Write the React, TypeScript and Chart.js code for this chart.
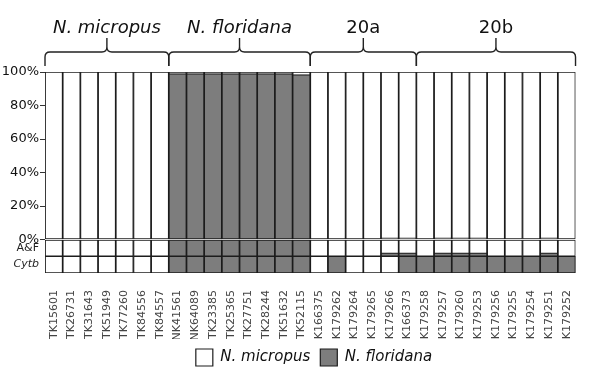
import React, { useEffect, useRef } from 'react';
import { Chart, registerables } from 'chart.js';

Chart.register(...registerables);

// ---- data ----
const specimens = [
  'TK15601', 'TK26731', 'TK31643', 'TK51949', 'TK77260', 'TK84556', 'TK84557',
  'NK41561', 'NK64089', 'TK23385', 'TK25365', 'TK27751', 'TK28244', 'TK51632', 'TK52115',
  'TK166375', 'TK179262', 'TK179264', 'TK179265', 'TK179266', 'TK166373',
  'TK179258', 'TK179257', 'TK179260', 'TK179253', 'TK179256', 'TK179255', 'TK179254', 'TK179251', 'TK179252',
];
const groupNames = ['N. micropus', 'N. floridana', '20a', '20b'];
const groupSizes = [7, 8, 6, 9];
const groupItalic = [true, true, false, false];

// percent of N. floridana ancestry (top panel)
const floridanaPct = [
  0, 0, 0, 0, 0, 0, 0,
  99, 99, 99, 99, 99, 99, 99, 98.5,
  0, 0, 0, 0, 1, 1,
  0, 1, 1, 1, 0, 0, 0, 1, 0,
];
// fraction of N. floridana alleles at A&F markers
const afFloridana = [
  0, 0, 0, 0, 0, 0, 0,
  1, 1, 1, 1, 1, 1, 1, 1,
  0, 0, 0, 0, 0.2, 0.2,
  0, 0.2, 0.2, 0.2, 0, 0, 0, 0.2, 0,
];
// Cytb haplotype: 1 = N. floridana, 0 = N. micropus
const cytbFloridana = [
  0, 0, 0, 0, 0, 0, 0,
  1, 1, 1, 1, 1, 1, 1, 1,
  0, 1, 0, 0, 0, 1,
  1, 1, 1, 1, 1, 1, 1, 1, 1,
];
const percentTicks = [0, 20, 40, 60, 80, 100];
const rowLabels = ['A&F', 'Cytb'];
const rowCenters = [-5, -15];
const rowBands: [number, number][] = [[-10, 0], [-20, -10]];

const WHITE = '#ffffff';
const GRAY = '#7d7d7d';
const EDGE = '#1c1c1c';

const bracePlugin = {
  id: 'groupBraces',
  afterLayout(chart: any) {
    if (chart.legend) {
      chart.legend.left = 46;
    }
  },
  afterDatasetsDraw(chart: any) {
    const x = chart.scales.x;
    const ctx = chart.ctx as CanvasRenderingContext2D;
    const top = chart.chartArea.top;
    const half = (x.getPixelForValue(1) - x.getPixelForValue(0)) / 2;
    const yLine = top - 20;
    const yEnd = top - 6;
    const yTip = top - 34;
    const r = 5;
    let start = 0;
    ctx.save();
    ctx.strokeStyle = '#222';
    ctx.lineWidth = 1.4;
    ctx.fillStyle = '#111';
    groupSizes.forEach((n, gi) => {
      const L = x.getPixelForValue(start) - half;
      const R = x.getPixelForValue(start + n - 1) + half;
      const M = (L + R) / 2;
      ctx.beginPath();
      ctx.moveTo(L, yEnd);
      ctx.lineTo(L, yLine + r);
      ctx.quadraticCurveTo(L, yLine, L + r, yLine);
      ctx.lineTo(M - r, yLine);
      ctx.quadraticCurveTo(M, yLine, M, yLine - r);
      ctx.lineTo(M, yTip);
      ctx.moveTo(M, yLine - r);
      ctx.quadraticCurveTo(M, yLine, M + r, yLine);
      ctx.lineTo(R - r, yLine);
      ctx.quadraticCurveTo(R, yLine, R, yLine + r);
      ctx.lineTo(R, yEnd);
      ctx.stroke();
      ctx.font = `${groupItalic[gi] ? 'italic ' : ''}18px "DejaVu Sans"`;
      ctx.textAlign = 'center';
      ctx.textBaseline = 'alphabetic';
      ctx.fillText(groupNames[gi], M, top - 39);
      start += n;
    });
    ctx.restore();
  },
};

const barCommon = {
  grouped: false,
  barPercentage: 1,
  categoryPercentage: 1,
  borderSkipped: false as const,
  borderWidth: 1.2,
  borderColor: EDGE,
};

export default function App() {
  const ref = useRef<HTMLCanvasElement | null>(null);

  useEffect(() => {
    if (!ref.current) return;
    Chart.defaults.font.family = '"DejaVu Sans", Verdana, sans-serif';

    const florMain = floridanaPct.map((v) => (v > 0 ? [0, v] : null));
    const florAF = afFloridana.map((v) => (v > 0 ? [rowBands[0][0], rowBands[0][0] + v * (rowBands[0][1] - rowBands[0][0])] : null));
    const florCyt = cytbFloridana.map((v) => (v > 0 ? [rowBands[1][0], rowBands[1][1]] : null));
    const frameMain = specimens.map(() => [0, 100]);
    const frameAF = specimens.map(() => [rowBands[0][0], rowBands[0][1]]);
    const frameCyt = specimens.map(() => [rowBands[1][0], rowBands[1][1]]);

    const chart = new Chart(ref.current, {
      type: 'bar',
      data: {
        labels: specimens,
        datasets: [
          { ...barCommon, label: 'N. floridana', data: florMain as any, backgroundColor: GRAY },
          { ...barCommon, label: 'A&F floridana', data: florAF as any, backgroundColor: GRAY },
          { ...barCommon, label: 'Cytb floridana', data: florCyt as any, backgroundColor: GRAY },
          { ...barCommon, label: 'N. micropus', data: frameMain as any, backgroundColor: WHITE },
          { ...barCommon, label: 'A&F frame', data: frameAF as any, backgroundColor: WHITE },
          { ...barCommon, label: 'Cytb frame', data: frameCyt as any, backgroundColor: WHITE },
        ],
      },
      options: {
        responsive: false,
        devicePixelRatio: 1,
        animation: false,
        layout: { padding: { top: 72, right: 7, bottom: 3, left: 0 } },
        plugins: {
          tooltip: { enabled: false },
          legend: {
            position: 'bottom',
            labels: {
              boxWidth: 17,
              boxHeight: 17,
              padding: 10,
              color: '#111',
              font: { size: 15, style: 'italic', family: '"DejaVu Sans"' },
              filter: (item: any) => item.datasetIndex === 0 || item.datasetIndex === 3,
              sort: (a: any, b: any) => b.datasetIndex - a.datasetIndex,
            },
          },
        },
        scales: {
          x: {
            type: 'category',
            offset: true,
            grid: { display: false },
            border: { display: false },
            ticks: {
              autoSkip: false,
              minRotation: 90,
              maxRotation: 90,
              padding: 9,
              color: '#444',
              font: { size: 11 },
            },
            afterFit: (s: any) => { s.height = 66; },
          },
          y: {
            min: -20,
            max: 100,
            border: { display: false },
            grid: {
              drawOnChartArea: false,
              drawTicks: true,
              tickLength: 5,
              tickColor: (ctx: any) => (ctx.tick && ctx.tick.value < 0 ? 'rgba(0,0,0,0)' : '#333'),
            },
            afterBuildTicks: (s: any) => {
              s.ticks = [...percentTicks, ...rowCenters].map((v) => ({ value: v }));
            },
            ticks: {
              padding: 1,
              color: (ctx: any) => (ctx.tick && ctx.tick.value < 0 ? '#222' : '#111'),
              font: (ctx: any) => {
                const v = ctx.tick ? ctx.tick.value : 0;
                if (v === rowCenters[1]) return { size: 11, style: 'italic' };
                if (v === rowCenters[0]) return { size: 11 };
                return { size: 13 };
              },
              callback: (value: any) => {
                const v = Number(value);
                const ri = rowCenters.indexOf(v);
                if (ri >= 0) return rowLabels[ri];
                return `${v}%`;
              },
            },
            afterFit: (s: any) => { s.width = 45; },
          },
        },
      },
      plugins: [bracePlugin],
    });
    return () => chart.destroy();
  }, []);

  return (
    <div style={{ position: 'absolute', left: 0, top: 0, width: 589, height: 379, background: '#fff' }}>
      <canvas ref={ref} width={589} height={379} style={{ display: 'block' }} />
    </div>
  );
}
